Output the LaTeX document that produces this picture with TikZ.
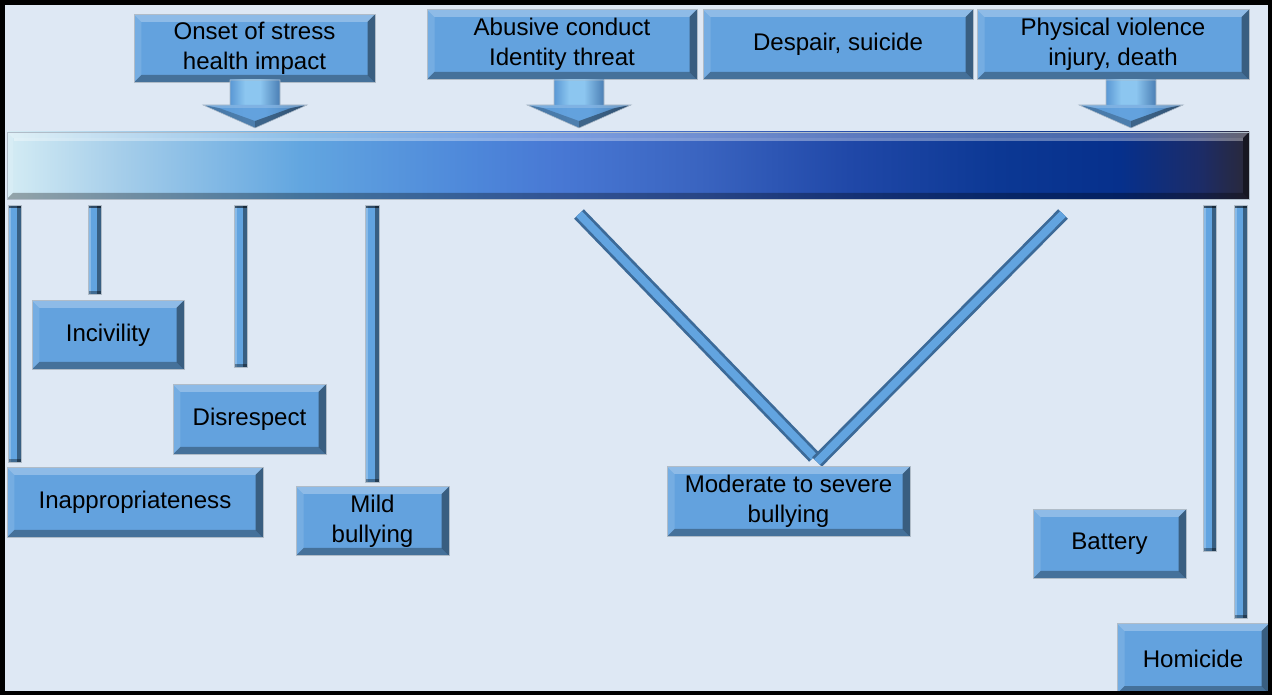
\documentclass[tikz,border=0pt]{standalone}
\usepackage{fontspec}
\setmainfont{Liberation Sans}
\usetikzlibrary{calc}
\definecolor{bg}{HTML}{DEE8F4}
\definecolor{boxblue}{HTML}{63A2DE}
\definecolor{barblue}{HTML}{62A4E0}
\definecolor{edgegray}{HTML}{B0BCC8}
\definecolor{diagdark}{HTML}{3C6A98}
\definecolor{arrL}{HTML}{5A98D4}
\definecolor{arrM}{HTML}{8CC6F0}
\definecolor{arrR}{HTML}{4A7EB4}
\definecolor{g0}{HTML}{D4ECF4}
\definecolor{g1}{HTML}{A6CEEA}
\definecolor{g2}{HTML}{62A6E0}
\definecolor{g3}{HTML}{4E88DA}
\definecolor{g4}{HTML}{4878D4}
\definecolor{g5}{HTML}{3A64C0}
\definecolor{g6}{HTML}{2048A8}
\definecolor{g7}{HTML}{0C3894}
\definecolor{g8}{HTML}{06308C}
\definecolor{g9}{HTML}{1C2C68}
\definecolor{g10}{HTML}{2A2838}
\pgfdeclarehorizontalshading{barshade}{100bp}{color(0bp)=(g0); color(25bp)=(g0); color(29.5bp)=(g1); color(36.8bp)=(g2); color(43.6bp)=(g3); color(47.2bp)=(g4); color(52.9bp)=(g5); color(58.9bp)=(g6); color(64.9bp)=(g7); color(69.8bp)=(g8); color(73bp)=(g9); color(75bp)=(g10); color(100bp)=(g10)}
\pgfdeclarehorizontalshading{arrshade}{100bp}{color(0bp)=(arrL); color(25bp)=(arrL); color(40bp)=(arrM); color(55bp)=(arrM); color(75bp)=(arrR); color(100bp)=(arrR)}
\pgfdeclarehorizontalshading{headshade}{100bp}{color(0bp)=(arrL); color(25bp)=(arrL); color(45bp)=(boxblue); color(55bp)=(boxblue); color(75bp)=(arrR); color(100bp)=(arrR)}
\tikzset{
  bevel/.style={path picture={
    \path (path picture bounding box.north west) coordinate (pNW)
          (path picture bounding box.north east) coordinate (pNE)
          (path picture bounding box.south west) coordinate (pSW)
          (path picture bounding box.south east) coordinate (pSE);
    \fill[white,opacity=0.28] (pNW) -- (pNE) -- ([shift={(-#1,-#1)}]pNE) -- ([shift={(#1,-#1)}]pNW) -- cycle;
    \fill[white,opacity=0.12] (pNW) -- ([shift={(#1,-#1)}]pNW) -- ([shift={(#1,#1)}]pSW) -- (pSW) -- cycle;
    \fill[black,opacity=0.30] (pSW) -- ([shift={(#1,#1)}]pSW) -- ([shift={(-#1,#1)}]pSE) -- (pSE) -- cycle;
    \fill[black,opacity=0.42] (pSE) -- ([shift={(-#1,#1)}]pSE) -- ([shift={(-#1,-#1)}]pNE) -- (pNE) -- cycle;
  }},
  bevbox/.style={draw=edgegray, line width=0.5pt, fill=boxblue, bevel=0.15cm,
    inner sep=0pt, outer sep=0pt, align=center, text=black,
    font=\fontsize{13.7}{17}\selectfont},
}
\newcommand{\boxat}[6]{\node[bevbox, minimum width={(#4-#2)*0.02cm}, minimum height={(#5-#3)*0.02cm}] (#1) at ({(#2+#4)/2},{(#3+#5)/2+1.5}) {#6};}
\newcommand{\blockarr}[1]{%
  \shade[shading=arrshade] (#1-25,80) rectangle (#1+25,106);
  \shade[shading=headshade] (#1+52,105) -- (#1,128) -- (#1-52,105) -- cycle;
  \fill[white,opacity=0.18] (#1-52,105) -- (#1+52,105) -- (#1+36,108) -- (#1-36,108) -- cycle;
  \fill[black,opacity=0.38] (#1,128) -- (#1+52,105) -- (#1+36,108) -- (#1,121) -- cycle;
  \fill[black,opacity=0.22] (#1,128) -- (#1-52,105) -- (#1-36,108) -- (#1,121) -- cycle;
  \draw[edgegray,line width=0.3pt] (#1-25,80) -- (#1+25,80) -- (#1+25,105) -- (#1+52,105) -- (#1,128) -- (#1-52,105) -- (#1-25,105) -- cycle;
}
\newcommand{\vstick}[4]{%
  \fill[barblue] (#1,#2) rectangle (#3,#4);
  \fill[black,opacity=0.42] (#3-4,#2) rectangle (#3,#4);
  \fill[white,opacity=0.25] (#1,#2) rectangle (#1+3,#4);
  \fill[black,opacity=0.55] (#1,#2) rectangle (#3,#2+3);
  \fill[black,opacity=0.35] (#1,#4-3) rectangle (#3,#4);
  \draw[edgegray,line width=0.3pt] (#1,#2) rectangle (#3,#4);
}
\begin{document}
\begin{tikzpicture}[x=0.02cm,y=-0.02cm]
\useasboundingbox (0,0) rectangle (1272,695);
\fill[bg] (0,0) rectangle (1272,695);

% top boxes
\boxat{onset}{134}{13}{375}{81}{Onset of stress\\health impact}
\boxat{abusive}{427}{8}{697}{78}{Abusive conduct\\Identity threat}
\boxat{despair}{703}{8}{973}{78}{Despair, suicide}
\boxat{physical}{977}{8}{1249}{78}{Physical violence\\injury, death}

% block arrows
\blockarr{255}
\blockarr{579}
\blockarr{1131}

% gradient bar
\node[draw=edgegray, line width=0.5pt, shading=barshade, bevel=0.12cm, minimum width={1242*0.02cm}, minimum height={67*0.02cm}, inner sep=0pt, outer sep=0pt] (bar) at (628,165.5) {};
\fill[white,opacity=0.35] (14,138) rectangle (1243,141);

% sticks
\vstick{8}{205}{21}{462}
\vstick{88}{205}{101}{294}
\vstick{234}{205}{247}{367}
\vstick{365}{205}{379}{482}
\vstick{1203}{205}{1216}{551}
\vstick{1234}{205}{1247}{618}

% diagonals
\coordinate (dl1) at (579,214);
\coordinate (dl2) at (814,457);
\coordinate (dr1) at (1063,214);
\coordinate (dr2) at (817,462);
\draw[line width=0.27cm, draw=diagdark] (dl1) -- (dl2);
\draw[line width=0.16cm, draw=barblue] (dl1) -- (dl2);
\draw[line width=0.27cm, draw=diagdark] (dr1) -- (dr2);
\draw[line width=0.16cm, draw=barblue] (dr1) -- (dr2);

% lower boxes
\boxat{incivility}{32}{299}{184}{368}{Incivility}
\boxat{disrespect}{173}{383}{326}{453}{Disrespect}
\boxat{inapp}{7}{466}{263}{536}{Inappropriateness}
\boxat{mild}{296}{485}{449}{554}{Mild\\bullying}
\boxat{moderate}{667}{465}{910}{535}{Moderate to severe\\bullying}
\boxat{battery}{1033}{508}{1186}{577}{Battery}
\boxat{homicide}{1117}{622}{1269}{692}{Homicide}

% frame
\draw[black, line width=0.09cm] (2.5,2.5) rectangle (1270,693.5);
\end{tikzpicture}
\end{document}
